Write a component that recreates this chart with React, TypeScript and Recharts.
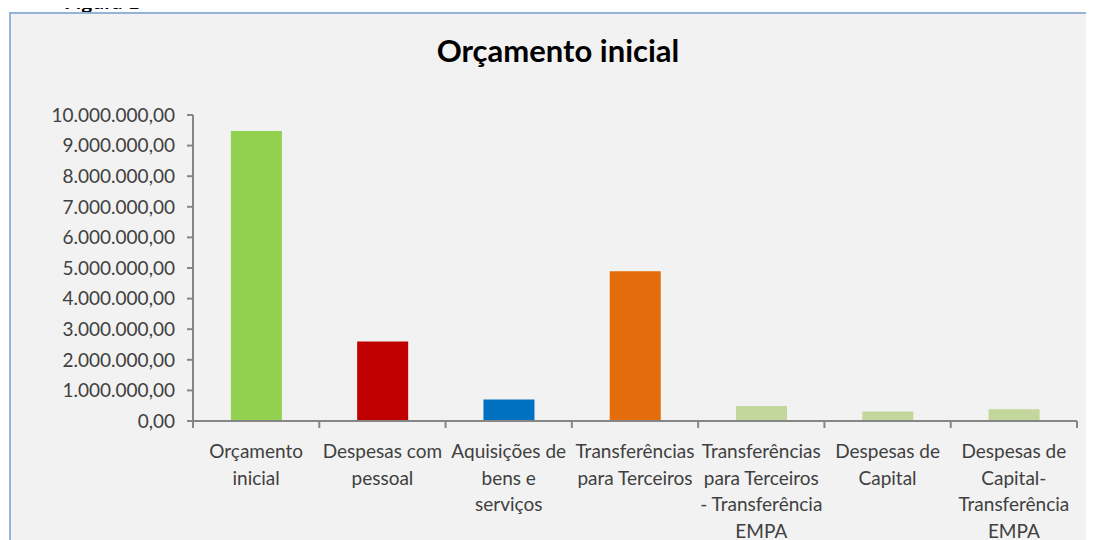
import React from "react";
import { BarChart, Bar, XAxis, YAxis, Cell } from "recharts";

// Categories (line breaks as in the original labels)
const categories = [
  "Orçamento\ninicial",
  "Despesas com\npessoal",
  "Aquisições de\nbens e\nserviços",
  "Transferências\npara Terceiros",
  "Transferências\npara Terceiros\n- Transferência\nEMPA",
  "Despesas de\nCapital",
  "Despesas de\nCapital-\nTransferência\nEMPA",
];

const values = [9475000, 2600000, 700000, 4890000, 490000, 310000, 380000];

const barColors = ["#92D050", "#C00000", "#0070C0", "#E46C0A", "#C3D69B", "#C3D69B", "#C3D69B"];

const yTicks = [0, 1000000, 2000000, 3000000, 4000000, 5000000, 6000000, 7000000, 8000000, 9000000, 10000000];

// slot axis: whole numbers are category boundaries (tick marks), halves are category centres (labels)
const slotTicks = [0, 0.5, 1, 1.5, 2, 2.5, 3, 3.5, 4, 4.5, 5, 5.5, 6, 6.5, 7];

const data = categories.map((name, i) => ({ name, value: values[i], slot: i + 0.5 }));

const font = "Lato, 'Open Sans', sans-serif";
const axisColor = "#868686";

// 10000000 -> "10.000.000,00"
const formatPt = (n: number) => {
  const s = Math.round(n).toString().replace(/\B(?=(\d{3})+(?!\d))/g, ".");
  return s + ",00";
};

const SlotTick = (props: any) => {
  const { x, y, payload } = props;
  const v = Number(payload.value);
  if (Number.isInteger(v)) {
    return <line x1={x} x2={x} y1={y} y2={y + 7} stroke={axisColor} strokeWidth={2} />;
  }
  const lines = categories[Math.floor(v)].split("\n");
  return (
    <text x={x} y={y + 37} textAnchor="middle" fill="#404040" fontSize={19} fontFamily={font}>
      {lines.map((l, i) => (
        <tspan key={i} x={x} dy={i === 0 ? 0 : 26.7}>
          {l}
        </tspan>
      ))}
    </text>
  );
};

export default function App() {
  return (
    <div style={{ position: "relative", width: 1086, height: 532, overflow: "hidden", marginTop: -8, paddingTop: 8 }}>
      <div
        style={{
          position: "absolute",
          left: 56,
          top: -10,
          fontFamily: font,
          fontWeight: 700,
          fontSize: 21,
          lineHeight: "21px",
          color: "#000",
        }}
      >
        Figura 1
      </div>
      <div
        style={{
          position: "absolute",
          left: 1,
          top: 12,
          width: 1100,
          height: 540,
          background: "#F2F2F2",
          border: "2px solid #95B3D7",
          boxSizing: "border-box",
        }}
      >
        <div
          style={{
            position: "absolute",
            left: 0,
            top: 17,
            width: 1094,
            textAlign: "center",
            fontFamily: font,
            fontWeight: 700,
            fontSize: 31,
            color: "#000",
          }}
        >
          Orçamento inicial
        </div>
        <div style={{ position: "absolute", left: 0, top: 0 }}>
          <BarChart
            width={1090}
            height={530}
            data={data}
            margin={{ top: 101, right: 24, left: 0, bottom: 13 }}
            barCategoryGap="30%"
          >
            <XAxis dataKey="name" hide height={0} />
            <XAxis
              xAxisId="slots"
              dataKey="slot"
              type="number"
              domain={[0, 7]}
              ticks={slotTicks}
              interval={0}
              allowDataOverflow
              height={110}
              axisLine={{ stroke: axisColor, strokeWidth: 2 }}
              tickLine={false}
              tickSize={0}
              tickMargin={0}
              tick={<SlotTick />}
            />
            <YAxis
              width={182}
              domain={[0, 10000000]}
              ticks={yTicks}
              interval={0}
              tickFormatter={formatPt}
              axisLine={{ stroke: axisColor, strokeWidth: 2 }}
              tickLine={{ stroke: axisColor, strokeWidth: 2 }}
              tickSize={6}
              tickMargin={12}
              tick={{ fill: "#404040", fontSize: 19, fontFamily: font }}
            />
            <Bar dataKey="value" isAnimationActive={false}>
              {data.map((d, i) => (
                <Cell key={d.name} fill={barColors[i]} />
              ))}
            </Bar>
          </BarChart>
        </div>
      </div>
    </div>
  );
}
